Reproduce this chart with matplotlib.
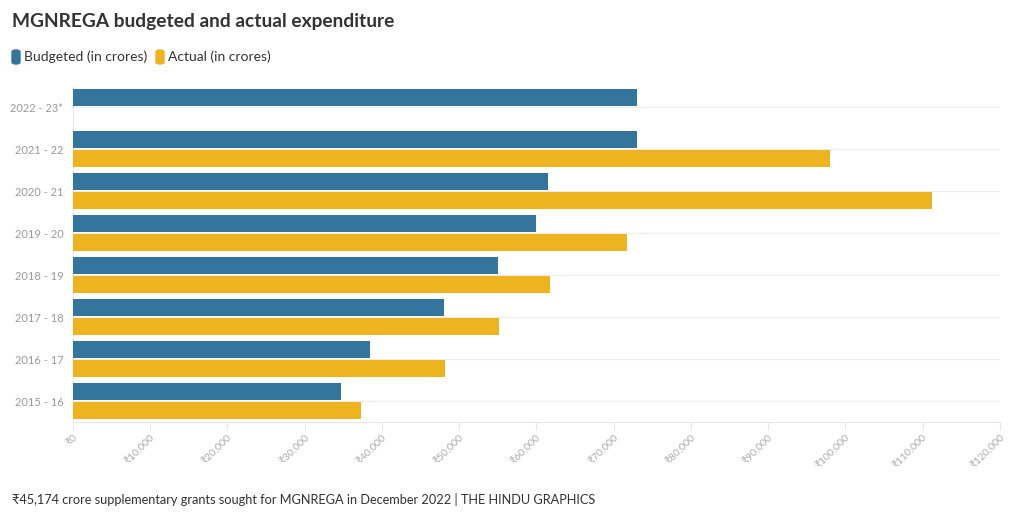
import numpy as np
import matplotlib.pyplot as plt
from matplotlib.patches import FancyBboxPatch
from matplotlib.ticker import FuncFormatter

plt.rcParams['font.family'] = ['Lato', 'DejaVu Sans']

years = ['2015 - 16', '2016 - 17', '2017 - 18', '2018 - 19',
         '2019 - 20', '2020 - 21', '2021 - 22', '2022 - 23*']
budgeted = [34699, 38500, 48000, 55000, 60000, 61500, 73000, 73000]
actual = [37300, 48200, 55200, 61800, 71700, 111170, 98000, np.nan]

blue = '#33759c'
yellow = '#eeb420'

fig = plt.figure(figsize=(10.2, 5.18), dpi=100)
ax = fig.add_axes([73 / 1020, 1 - 422 / 518, 927 / 1020, 336 / 518])

y = np.arange(len(years))
h = 0.39
off = 0.225
ax.barh(y + off, budgeted, h, color=blue, zorder=3)
ax.barh(y - off, actual, h, color=yellow, zorder=3)

ax.set_xlim(0, 120000)
ax.set_ylim(-0.5, 7.5)
ax.set_yticks(y)
ax.set_yticklabels(years)
ax.set_xticks(np.arange(0, 120001, 10000))
ax.xaxis.set_major_formatter(FuncFormatter(lambda v, p: '₹{:,.0f}'.format(v)))
for lbl in ax.get_xticklabels():
    lbl.set_rotation(45)
    lbl.set_ha('right')
    lbl.set_rotation_mode('anchor')

ax.grid(axis='y', color='#ececec', linewidth=0.8, zorder=0)
for s in ['top', 'right']:
    ax.spines[s].set_visible(False)
for s in ['left', 'bottom']:
    ax.spines[s].set_color('#e6e6e6')
    ax.spines[s].set_linewidth(0.8)
ax.tick_params(axis='y', length=0, pad=7, labelsize=8, labelcolor='#999999')
ax.tick_params(axis='x', length=6, color='#e6e6e6', pad=2, labelsize=7.5, labelcolor='#aaaaaa')

fig.text(12 / 1020, 1 - 22 / 518, 'MGNREGA budgeted and actual expenditure',
         fontsize=13.8, fontweight='bold', color='#333333', va='center')

# legend
fig.patches.append(FancyBboxPatch((12 / 1020, 1 - 64 / 518), 8 / 1020, 14 / 518,
                                  boxstyle='round,pad=0,rounding_size=0.004',
                                  color=blue, transform=fig.transFigure))
fig.text(24 / 1020, 1 - 57 / 518, 'Budgeted (in crores)', fontsize=10,
         color='#333333', va='center')
fig.patches.append(FancyBboxPatch((156 / 1020, 1 - 64 / 518), 8 / 1020, 14 / 518,
                                  boxstyle='round,pad=0,rounding_size=0.004',
                                  color=yellow, transform=fig.transFigure))
fig.text(168 / 1020, 1 - 57 / 518, 'Actual (in crores)', fontsize=10,
         color='#333333', va='center')

fig.text(12 / 1020, 1 - 499 / 518,
         '₹45,174 crore supplementary grants sought for MGNREGA in December 2022 | THE HINDU GRAPHICS',
         fontsize=9.2, color='#333333', va='center')

fig.savefig('out.png', dpi=100)
